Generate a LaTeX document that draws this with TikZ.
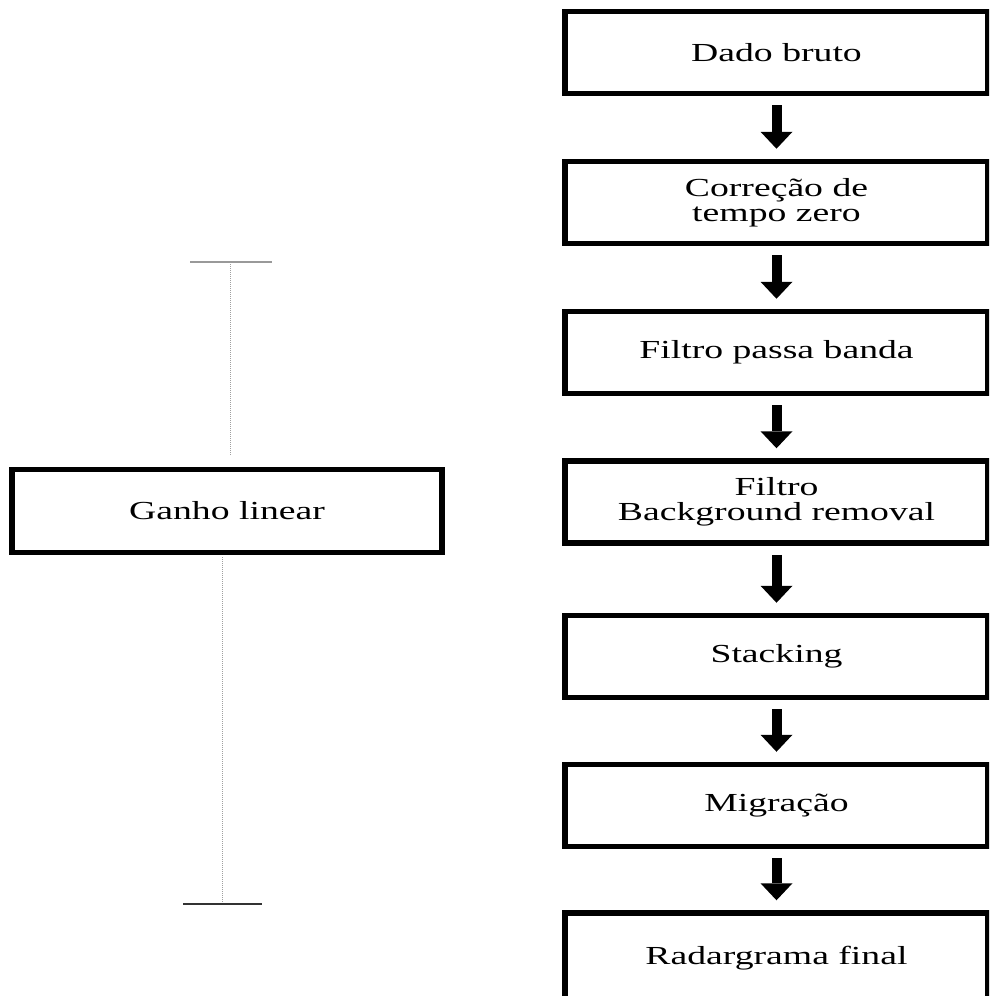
\documentclass[tikz,border=0pt]{standalone}
\usepackage{fontspec}
\setmainfont{Liberation Serif}[FakeStretch=1.45]
\usetikzlibrary{arrows.meta}
\begin{document}
\begin{tikzpicture}[x=1pt,y=-1pt,
  stepbox/.style={draw=black, line width=5.5pt, rectangle, minimum width=423pt, minimum height=82pt, inner sep=0pt, align=center, font=\fontsize{26}{25}\selectfont},
  gainbox/.style={stepbox, minimum width=430pt, minimum height=83pt},
  flowarrow/.style={line width=10pt, -{Triangle[width=32pt,length=17pt,line width=0pt]}, shorten <=9pt, shorten >=10pt},
  dotline/.style={gray!75, line width=1pt, dash pattern=on 0.8pt off 1.2pt},
  tbar/.style={line width=1.5pt}
]
\clip (0,0) rectangle (989,996);
\fill[white] (0,0) rectangle (989,996);

\node[stepbox] (b1) at (776.5,52.5) {Dado bruto};
\node[stepbox] (b2) at (776.5,202.5) {Correção de\\tempo zero};
\node[stepbox] (b3) at (776.5,352.5) {Filtro passa banda};
\node[stepbox] (b4) at (776.5,502) {Filtro\\Background removal};
\node[stepbox] (b5) at (776.5,656.5) {Stacking};
\node[stepbox] (b6) at (776.5,805.5) {Migração};
\node[stepbox, minimum height=90pt] (b7) at (776.5,958) {Radargrama final};

\draw[flowarrow] (b1.south) -- (b2.north);
\draw[flowarrow] (b2.south) -- (b3.north);
\draw[flowarrow] (b3.south) -- (b4.north);
\draw[flowarrow] (b4.south) -- (b5.north);
\draw[flowarrow] (b5.south) -- (b6.north);
\draw[flowarrow] (b6.south) -- (b7.north);

\node[gainbox] (g) at (227,511) {Ganho linear};

\coordinate (tl) at (190,262);
\coordinate (tr) at (272,262);
\coordinate (tt) at (230,264);
\coordinate (ta) at (230,455);
\draw[tbar, gray!80] (tl) -- (tr);
\draw[dotline] (tt) -- (ta);

\coordinate (bl) at (183,904);
\coordinate (br) at (262,904);
\coordinate (bt) at (222,902);
\coordinate (bs) at (222,557);
\draw[tbar, black!80] (bl) -- (br);
\draw[dotline] (bs) -- (bt);
\end{tikzpicture}
\end{document}
